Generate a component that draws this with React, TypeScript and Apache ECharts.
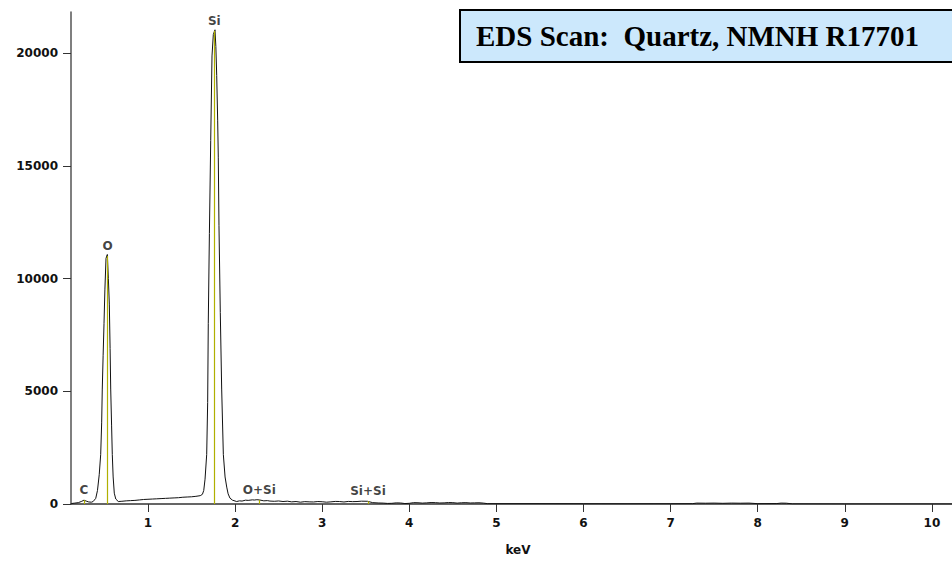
import React, { useEffect, useRef } from "react";
import * as echarts from "echarts";

// Spectrum energies (keV) and counts
const energy: number[] = [
  0.12, 0.16, 0.2, 0.24, 0.265, 0.29, 0.32, 0.35, 0.37, 0.4, 0.42, 0.44, 0.457, 0.468, 0.475, 0.485, 0.495,
  0.505, 0.518, 0.533, 0.545, 0.556, 0.565, 0.572, 0.582, 0.59, 0.6, 0.613, 0.63, 0.659, 0.7, 0.75, 0.8,
  0.85, 0.9, 0.95, 1.0, 1.05, 1.1, 1.15, 1.2, 1.25, 1.3, 1.35, 1.4, 1.45, 1.5, 1.55, 1.6, 1.625, 1.64,
  1.655, 1.674, 1.685, 1.692, 1.705, 1.72, 1.735, 1.75, 1.769, 1.779, 1.789, 1.8, 1.807, 1.815, 1.83,
  1.846, 1.865, 1.885, 1.904, 1.92, 1.941, 1.97, 2.018, 2.05, 2.08, 2.12, 2.15, 2.2, 2.22, 2.25, 2.28,
  2.33, 2.37, 2.4, 2.45, 2.5, 2.55, 2.6, 2.65, 2.7, 2.75, 2.8, 2.85, 2.9, 2.95, 3.0, 3.05, 3.1, 3.15,
  3.2, 3.25, 3.3, 3.35, 3.4, 3.45, 3.52, 3.58, 3.65, 3.7, 3.75, 3.8, 3.85, 3.9, 3.95, 4.0, 4.05, 4.1,
  4.15, 4.2, 4.25, 4.3, 4.35, 4.4, 4.45, 4.5, 4.55, 4.6, 4.65, 4.7, 4.75, 4.8, 4.85, 4.9, 5.5, 6.0,
  6.5, 7.0, 7.25, 7.3, 7.4, 7.5, 7.6, 7.7, 7.8, 7.9, 8.0, 8.22, 8.27, 8.33, 8.4, 9.0, 10.23,
];
const counts: number[] = [
  20, 40, 60, 120, 170, 130, 90, 80, 110, 250, 600, 1300, 2200, 3600, 5100, 6600, 8000,
  9500, 10900, 11070, 10000, 8870, 6900, 5100, 3500, 2200, 1200, 480, 220, 110, 120, 140, 150,
  160, 180, 200, 210, 220, 230, 240, 250, 260, 270, 280, 300, 310, 320, 340, 370, 430, 600,
  1100, 2200, 4500, 8000, 12000, 16130, 19880, 20830, 21040, 20300, 19010, 17000, 15390, 12350, 8500,
  5100, 2200, 1200, 750, 450, 260, 170, 110, 140, 130, 170, 160, 185, 175, 190, 180,
  140, 150, 130, 120, 135, 110, 125, 95, 110, 80, 105, 95, 90, 110, 100, 80, 95, 115,
  110, 90, 115, 105, 110, 125, 120, 60, 45, 40, 25, 30, 50, 45, 20, 30, 60, 55,
  40, 50, 65, 60, 45, 50, 65, 60, 40, 55, 60, 45, 50, 55, 40, 15, 15, 12,
  10, 12, 15, 40, 35, 40, 30, 40, 35, 40, 15, 20, 40, 35, 5, 2, 0,
];

// Element marker lines
const markerNames: string[] = ["C", "O", "Si", "O+Si", "Si+Si"];
const markerEnergy: number[] = [0.265, 0.537, 1.761, 2.278, 3.526];
const markerHeight: number[] = [170, 11000, 21000, 180, 120];

const xTicks: number[] = [1, 2, 3, 4, 5, 6, 7, 8, 9, 10];
const yTicks: number[] = [0, 5000, 10000, 15000, 20000];

const title = "EDS Scan:  Quartz, NMNH R17701";

export default function App() {
  const ref = useRef<HTMLDivElement>(null);
  useEffect(() => {
    if (!ref.current) return;
    document.body.style.margin = "0";
    const chart = echarts.init(ref.current, undefined, { renderer: "svg", width: 952, height: 561 });
    const labelFont = {
      fontFamily: "DejaVu Sans",
      fontWeight: "bold" as const,
      fontSize: 12,
      color: "#111",
    };
    chart.setOption({
      animation: false,
      backgroundColor: "#ffffff",
      grid: { left: 71, right: 0, top: 12, bottom: 47, containLabel: false },
      xAxis: {
        type: "value",
        min: 0.116,
        max: 10.231,
        name: "keV",
        nameLocation: "middle",
        nameGap: 40,
        nameTextStyle: { ...labelFont, padding: [0, 0, 0, 13] },
        axisLine: { show: true, lineStyle: { color: "#333", width: 1.5 } },
        axisTick: { show: true, length: 8, customValues: xTicks, lineStyle: { color: "#333", width: 1 } },
        axisLabel: { ...labelFont, margin: 13, customValues: xTicks, formatter: (v: number) => String(v) },
        splitLine: { show: false },
      },
      yAxis: {
        type: "value",
        min: 0,
        max: 21830,
        axisLine: { show: true, lineStyle: { color: "#555", width: 1.5 } },
        axisTick: { show: true, length: 8, customValues: yTicks, lineStyle: { color: "#333", width: 1 } },
        axisLabel: { ...labelFont, margin: 13, customValues: yTicks, formatter: (v: number) => String(v) },
        splitLine: { show: false },
      },
      series: [
        {
          type: "line",
          data: energy.map((e, i) => [e, counts[i]]),
          showSymbol: false,
          lineStyle: { color: "#111", width: 1 },
          z: 2,
        },
        {
          type: "line",
          data: [],
          markLine: {
            symbol: "none",
            silent: true,
            label: { show: false },
            lineStyle: { color: "#b0b000", width: 1.2, type: "solid" },
            data: markerEnergy.map((e, i) => [
              { coord: [e, 0] },
              { coord: [e, markerHeight[i]] },
            ]),
          },
          z: 3,
        },
        {
          type: "scatter",
          data: markerEnergy.map((e, i) => ({ value: [e, markerHeight[i]], name: markerNames[i] })),
          symbolSize: 0,
          label: {
            show: true,
            position: "top",
            distance: 4,
            formatter: (p: any) => p.name,
            ...labelFont,
          },
          z: 4,
        },
      ],
      graphic: [
        {
          type: "rect",
          shape: { x: 460, y: 10, width: 500, height: 52 },
          style: { fill: "#cce8fc", stroke: "#000", lineWidth: 2 },
          z: 10,
        },
        {
          type: "text",
          x: 476,
          y: 36,
          style: {
            text: title,
            fill: "#000",
            font: "bold 29px 'Liberation Serif'",
            textVerticalAlign: "middle",
            verticalAlign: "middle",
          },
          z: 11,
        },
      ],
    });
    return () => chart.dispose();
  }, []);
  return <div ref={ref} style={{ width: 952, height: 561 }} />;
}
